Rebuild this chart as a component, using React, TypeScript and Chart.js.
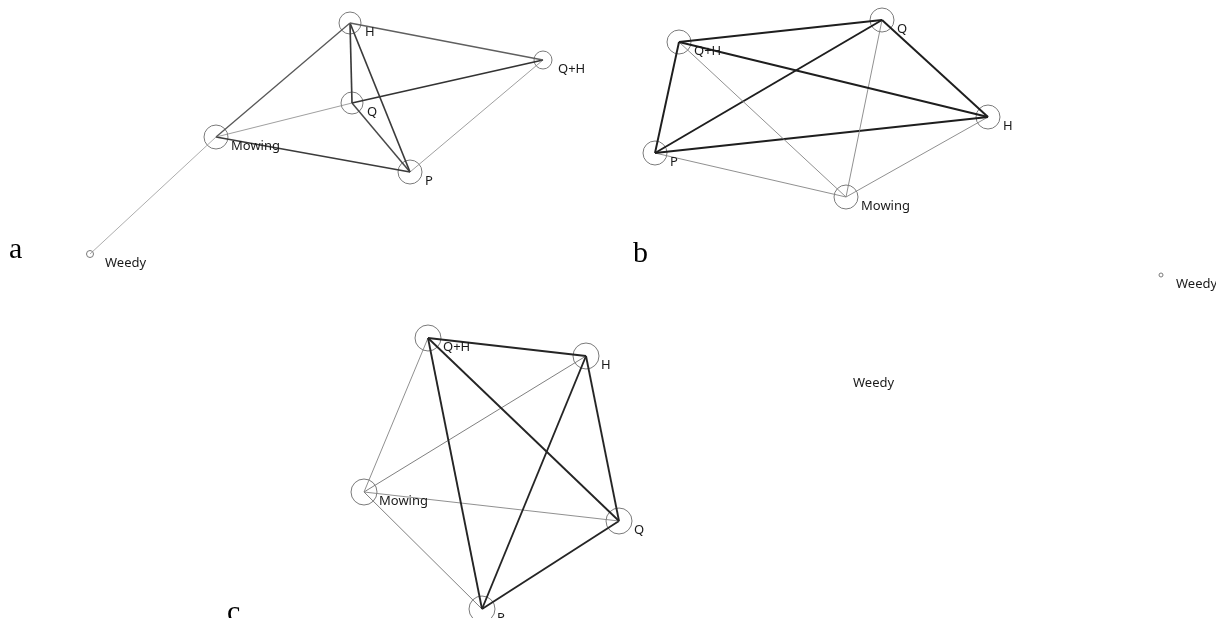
import { useEffect, useRef } from "react";
import { Chart, registerables } from "chart.js";

Chart.register(...registerables);

// Node order shared by every panel
const nodeNames = ["H", "Q+H", "Q", "Mowing", "P", "Weedy"];

// Panel a: node layout coordinates and node sizes
const aX = [350, 543, 352, 216, 410, 90];
const aY = [23, 60, 103, 137, 172, 254];
const aSize = [11, 9, 11, 12, 12, 3.5];

// Panel b
const bX = [988, 679, 882, 846, 655, 1161];
const bY = [117, 42, 20, 197, 153, 275];
const bSize = [12, 12, 12, 12, 12, 2];

// Panel c
const cX = [586, 428, 619, 364, 482, 838];
const cY = [356, 338, 521, 492, 609, 374];
const cSize = [13, 13, 13, 13, 13, 0];

// Edges: [from, to, weight] using indices into nodeNames
const aEdges: [number, number, number][] = [
  [0, 1, 0.45],
  [0, 3, 0.5],
  [0, 2, 0.7],
  [0, 4, 0.7],
  [2, 1, 0.75],
  [2, 4, 0.6],
  [2, 3, 0.15],
  [3, 4, 0.7],
  [3, 5, 0.1],
  [1, 4, 0.15],
];

const bEdges: [number, number, number][] = [
  [1, 2, 0.9],
  [1, 0, 0.9],
  [1, 4, 0.9],
  [1, 3, 0.2],
  [2, 4, 0.9],
  [2, 0, 0.9],
  [2, 3, 0.2],
  [4, 0, 0.9],
  [4, 3, 0.2],
  [0, 3, 0.2],
];

const cEdges: [number, number, number][] = [
  [1, 0, 0.85],
  [1, 2, 0.85],
  [1, 4, 0.85],
  [1, 3, 0.2],
  [0, 2, 0.85],
  [0, 4, 0.85],
  [0, 3, 0.25],
  [3, 2, 0.2],
  [3, 4, 0.25],
  [4, 2, 0.85],
];

const panelLetters = ["a", "b", "c"];

// Layout of the panel letters (in the same coordinate space as the nodes)
const letterPos = [
  { x: 9, y: 258 },
  { x: 633, y: 262 },
  { x: 227, y: 621 },
];

const panels = [
  { xs: aX, ys: aY, sizes: aSize, edges: aEdges },
  { xs: bX, ys: bY, sizes: bSize, edges: bEdges },
  { xs: cX, ys: cY, sizes: cSize, edges: cEdges },
];

const W = 1216;
const H = 618;

function edgeStyle(w: number) {
  const width = 0.6 + w * 1.5;
  const g = Math.round(160 - w * 145);
  return { width, color: `rgb(${g},${g},${g})` };
}

const labelPlugin = {
  id: "nodeLabels",
  afterDatasetsDraw(chart: any) {
    const { ctx, scales } = chart;
    const xs = scales.x;
    const ys = scales.y;
    ctx.save();
    ctx.fillStyle = "#1a1a1a";
    ctx.font = '13px "Noto Sans", "Open Sans", sans-serif';
    ctx.textBaseline = "middle";
    ctx.textAlign = "left";
    panels.forEach((p) => {
      nodeNames.forEach((name, i) => {
        const px = xs.getPixelForValue(p.xs[i]);
        const py = ys.getPixelForValue(p.ys[i]);
        ctx.fillText(name, px + 15, py + 9);
      });
    });
    ctx.font = '30px "Liberation Serif", "Times New Roman", serif';
    ctx.textBaseline = "alphabetic";
    ctx.fillStyle = "#000";
    panelLetters.forEach((l, i) => {
      ctx.fillText(
        l,
        xs.getPixelForValue(letterPos[i].x),
        ys.getPixelForValue(letterPos[i].y)
      );
    });
    ctx.restore();
  },
};

export default function App() {
  const ref = useRef<HTMLCanvasElement | null>(null);

  useEffect(() => {
    if (!ref.current) return;
    const datasets: any[] = [];
    panels.forEach((p) => {
      p.edges.forEach(([a, b, w]) => {
        const s = edgeStyle(w);
        datasets.push({
          type: "scatter",
          showLine: true,
          data: [
            { x: p.xs[a], y: p.ys[a] },
            { x: p.xs[b], y: p.ys[b] },
          ],
          borderColor: s.color,
          borderWidth: s.width,
          pointRadius: 0,
          clip: false,
        });
      });
    });
    panels.forEach((p) => {
      datasets.push({
        type: "scatter",
        data: p.xs.map((x, i) => ({ x, y: p.ys[i] })),
        pointRadius: p.sizes,
        pointBackgroundColor: "rgba(0,0,0,0)",
        pointBorderColor: "#7a7a7a",
        pointBorderWidth: 1,
        showLine: false,
        clip: false,
      });
    });

    const chart = new Chart(ref.current, {
      type: "scatter",
      data: { datasets },
      options: {
        animation: false,
        responsive: false,
        maintainAspectRatio: false,
        layout: { padding: 0, autoPadding: false },
        plugins: {
          legend: { display: false },
          tooltip: { enabled: false },
        },
        scales: {
          x: { type: "linear", min: 0, max: W, display: false },
          y: { type: "linear", min: 0, max: H, reverse: true, display: false },
        },
      },
      plugins: [labelPlugin],
    });
    return () => chart.destroy();
  }, []);

  return (
    <div
      style={{
        position: "fixed",
        left: 0,
        top: 0,
        width: W,
        height: H,
        background: "#fff",
      }}
    >
      <canvas ref={ref} width={W} height={H} style={{ width: W, height: H }} />
    </div>
  );
}
